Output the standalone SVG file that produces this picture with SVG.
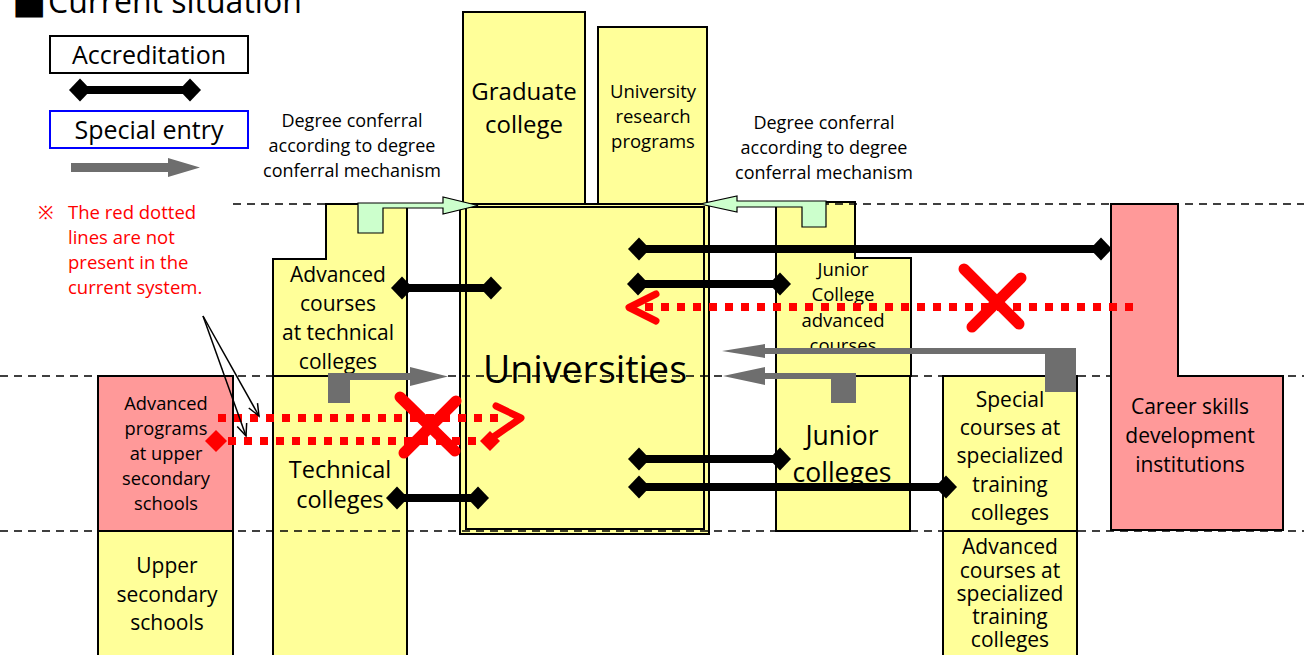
<svg xmlns="http://www.w3.org/2000/svg" width="1304" height="655" viewBox="0 0 1304 655">
<style>
.bx{fill:#ffff99;stroke:#000;stroke-width:2}
.pk{fill:#ff9999;stroke:#000;stroke-width:2}
.gr{fill:#ccffcc;stroke:#000;stroke-width:1.2}
.gy{fill:#6e6e6e}
.t{font-family:"Open Sans",Lato,sans-serif;fill:#000;text-anchor:middle}
.rt{font-family:"Open Sans",Lato,sans-serif;fill:#ff0000}
.dash{stroke:#000;stroke-width:1.5;stroke-dasharray:8 6;fill:none}
.acc{stroke:#000;stroke-width:8;fill:none;marker-start:url(#dia);marker-end:url(#dia)}
.rd{stroke:#ff0000;stroke-width:8;stroke-dasharray:8 8;fill:none}
.rx{stroke:#ff0000;stroke-width:11;stroke-linecap:round;fill:none}
.rv{stroke:#ff0000;stroke-width:7;stroke-linecap:round;stroke-linejoin:round;fill:none}
.ann{stroke:#000;stroke-width:1.5;fill:none;marker-end:url(#open)}
</style>
<defs>
<marker id="dia" markerUnits="userSpaceOnUse" viewBox="-12 -12 24 24" markerWidth="24" markerHeight="24" refX="0" refY="0" orient="auto">
<path d="M-11,0 L0,-11.5 L11,0 L0,11.5 Z" fill="#000"/>
</marker>
<marker id="open" markerUnits="userSpaceOnUse" viewBox="-14 -8 16 16" markerWidth="16" markerHeight="16" refX="0" refY="0" orient="auto">
<path d="M-12,-5 L0,0 L-12,5" fill="none" stroke="#000" stroke-width="1.5"/>
</marker>
</defs>

<g id="title">
<text y="13" style="font-family:'Open Sans','DejaVu Sans',sans-serif;font-size:32px"><tspan x="12" style="font-size:36px">■</tspan><tspan x="48">Current situation</tspan></text>
</g>

<g id="legend">
<rect x="50" y="36" width="198" height="37" fill="#fff" stroke="#000" stroke-width="2"/>
<text class="t" x="149" y="64" style="font-size:25px">Accreditation</text>
<line class="acc" x1="80" y1="90" x2="190" y2="90"/>
<rect x="50" y="111" width="198" height="37" fill="#fff" stroke="#0000ff" stroke-width="2"/>
<text class="t" x="149" y="139" style="font-size:25px">Special entry</text>
<polygon class="gy" points="71,163 168,163 168,158 200,167.5 168,177 168,172 71,172"/>
</g>

<g id="note">
<text class="rt" style="font-size:18.5px"><tspan x="38" y="219">※</tspan><tspan x="68" y="219">The red dotted</tspan><tspan x="68" y="244">lines are not</tspan><tspan x="68" y="269">present in the</tspan><tspan x="68" y="294">current system.</tspan></text>
</g>

<g id="label-degree-left">
<text class="t" style="font-size:18px"><tspan x="352" y="127">Degree conferral</tspan><tspan x="352" y="152">according to degree</tspan><tspan x="352" y="177">conferral mechanism</tspan></text>
</g>
<g id="label-degree-right">
<text class="t" style="font-size:18px"><tspan x="824" y="129">Degree conferral</tspan><tspan x="824" y="154">according to degree</tspan><tspan x="824" y="179">conferral mechanism</tspan></text>
</g>

<g id="graduate-college">
<rect class="bx" x="463" y="12" width="122" height="192"/>
<text class="t" style="font-size:24px"><tspan x="524" y="100">Graduate</tspan><tspan x="524" y="133">college</tspan></text>
</g>
<g id="university-research">
<rect class="bx" x="598" y="27" width="109" height="177"/>
<text class="t" style="font-size:18.5px"><tspan x="653" y="98">University</tspan><tspan x="653" y="123">research</tspan><tspan x="653" y="148">programs</tspan></text>
</g>

<g id="universities">
<rect class="bx" x="460" y="204" width="249" height="330"/>
<rect class="bx" x="466" y="207" width="238" height="322"/>
<text class="t" x="585" y="383" style="font-size:37.5px">Universities</text>
</g>

<g id="tech-advanced">
<polygon class="bx" points="326,204 407,204 407,376 273,376 273,259 326,259"/>
<text class="t" style="font-size:21px"><tspan x="338" y="282">Advanced</tspan><tspan x="338" y="311">courses</tspan><tspan x="338" y="340">at technical</tspan><tspan x="338" y="369">colleges</tspan></text>
</g>
<g id="technical-colleges">
<rect class="bx" x="273" y="376" width="134" height="290"/>
<text class="t" style="font-size:23.5px"><tspan x="340" y="478">Technical</tspan><tspan x="340" y="508">colleges</tspan></text>
</g>

<g id="upper-advanced">
<rect class="pk" x="98" y="376" width="135" height="155"/>
<text class="t" style="font-size:18.3px"><tspan x="166" y="410">Advanced</tspan><tspan x="166" y="435">programs</tspan><tspan x="166" y="460">at upper</tspan><tspan x="166" y="485">secondary</tspan><tspan x="166" y="510">schools</tspan></text>
</g>
<g id="upper-secondary">
<rect class="bx" x="98" y="531" width="135" height="135"/>
<text class="t" style="font-size:21px"><tspan x="167" y="573">Upper</tspan><tspan x="167" y="602">secondary</tspan><tspan x="167" y="630">schools</tspan></text>
</g>

<g id="junior-advanced">
<polygon class="bx" points="776,202 855,202 855,258 911,258 911,376 776,376"/>
<text class="t" style="font-size:18.5px"><tspan x="843" y="276">Junior</tspan><tspan x="843" y="301">College</tspan><tspan x="843" y="327">advanced</tspan><tspan x="843" y="352">courses</tspan></text>
</g>
<g id="junior-colleges">
<rect class="bx" x="776" y="376" width="134" height="155"/>
<text class="t" style="font-size:26.5px"><tspan x="842" y="445">Junior</tspan><tspan x="842" y="482">colleges</tspan></text>
</g>

<g id="special-courses">
<rect class="bx" x="943" y="376" width="134" height="155"/>
<text class="t" style="font-size:21px"><tspan x="1010" y="407">Special</tspan><tspan x="1010" y="435">courses at</tspan><tspan x="1010" y="463">specialized</tspan><tspan x="1010" y="492">training</tspan><tspan x="1010" y="520">colleges</tspan></text>
</g>
<g id="special-advanced">
<rect class="bx" x="943" y="531" width="134" height="135"/>
<text class="t" style="font-size:21px"><tspan x="1010" y="554">Advanced</tspan><tspan x="1010" y="578">courses at</tspan><tspan x="1010" y="601">specialized</tspan><tspan x="1010" y="624">training</tspan><tspan x="1010" y="647">colleges</tspan></text>
</g>

<g id="guides">
<line class="dash" x1="233" y1="204" x2="1304" y2="204"/>
<line class="dash" x1="0" y1="376" x2="1304" y2="376"/>
<line class="dash" x1="0" y1="531" x2="1304" y2="531"/>
</g>

<g id="career-skills">
<polygon class="pk" points="1111,204 1178,204 1178,376 1283,376 1283,530 1111,530"/>
<text class="t" style="font-size:21px"><tspan x="1190" y="414">Career skills</tspan><tspan x="1190" y="443">development</tspan><tspan x="1190" y="472">institutions</tspan></text>
</g>

<g id="connectors">
<polygon class="gr" points="358,233 358,203 443,203 443,197 478,205.5 443,214 443,208 383,208 383,233"/>
<polygon class="gr" points="826,227 826,201 737,201 737,196 700,204 737,212 737,207 802,207 802,227"/>
<polygon class="gy" points="328,403 328,373 410,373 410,367 448,376.5 410,386 410,380 350,380 350,403"/>
<polygon class="gy" points="1045,392 1045,354 765,354 765,358 722,351 765,344 765,348 1076,348 1076,392"/>
<polygon class="gy" points="831,403 831,379 765,379 765,385 723,376 765,367 765,373 856,373 856,403"/>
<line class="acc" x1="402" y1="288" x2="491" y2="288"/>
<line class="acc" x1="397" y1="498" x2="478" y2="498"/>
<line class="acc" x1="639" y1="249" x2="1101" y2="249"/>
<line class="acc" x1="638" y1="284" x2="780" y2="284"/>
<line class="acc" x1="639" y1="459" x2="780" y2="459"/>
<line class="acc" x1="639" y1="487" x2="946" y2="487"/>
<line class="rd" x1="218" y1="418" x2="506" y2="418"/>
<line class="rd" x1="228" y1="441" x2="482" y2="441"/>
<path d="M216,430 L227,441 L216,452 L205,441 Z" fill="#ff0000"/>
<path d="M490,431 L500,441 L490,451 L480,441 Z" fill="#ff0000"/>
<polyline class="rv" points="496,406 521,418 492,438"/>
<line class="rd" x1="1133" y1="307" x2="640" y2="307"/>
<polyline class="rv" points="656,294 629,307.5 656,321"/>
<line class="rx" x1="400" y1="397" x2="455" y2="451"/>
<line class="rx" x1="456" y1="401" x2="404" y2="453"/>
<line class="rx" x1="964" y1="269" x2="1019" y2="324"/>
<line class="rx" x1="1021" y1="278" x2="972" y2="327"/>
<line class="ann" x1="203" y1="316" x2="259" y2="416"/>
<line class="ann" x1="203" y1="316" x2="246" y2="436"/>
</g>
</svg>
